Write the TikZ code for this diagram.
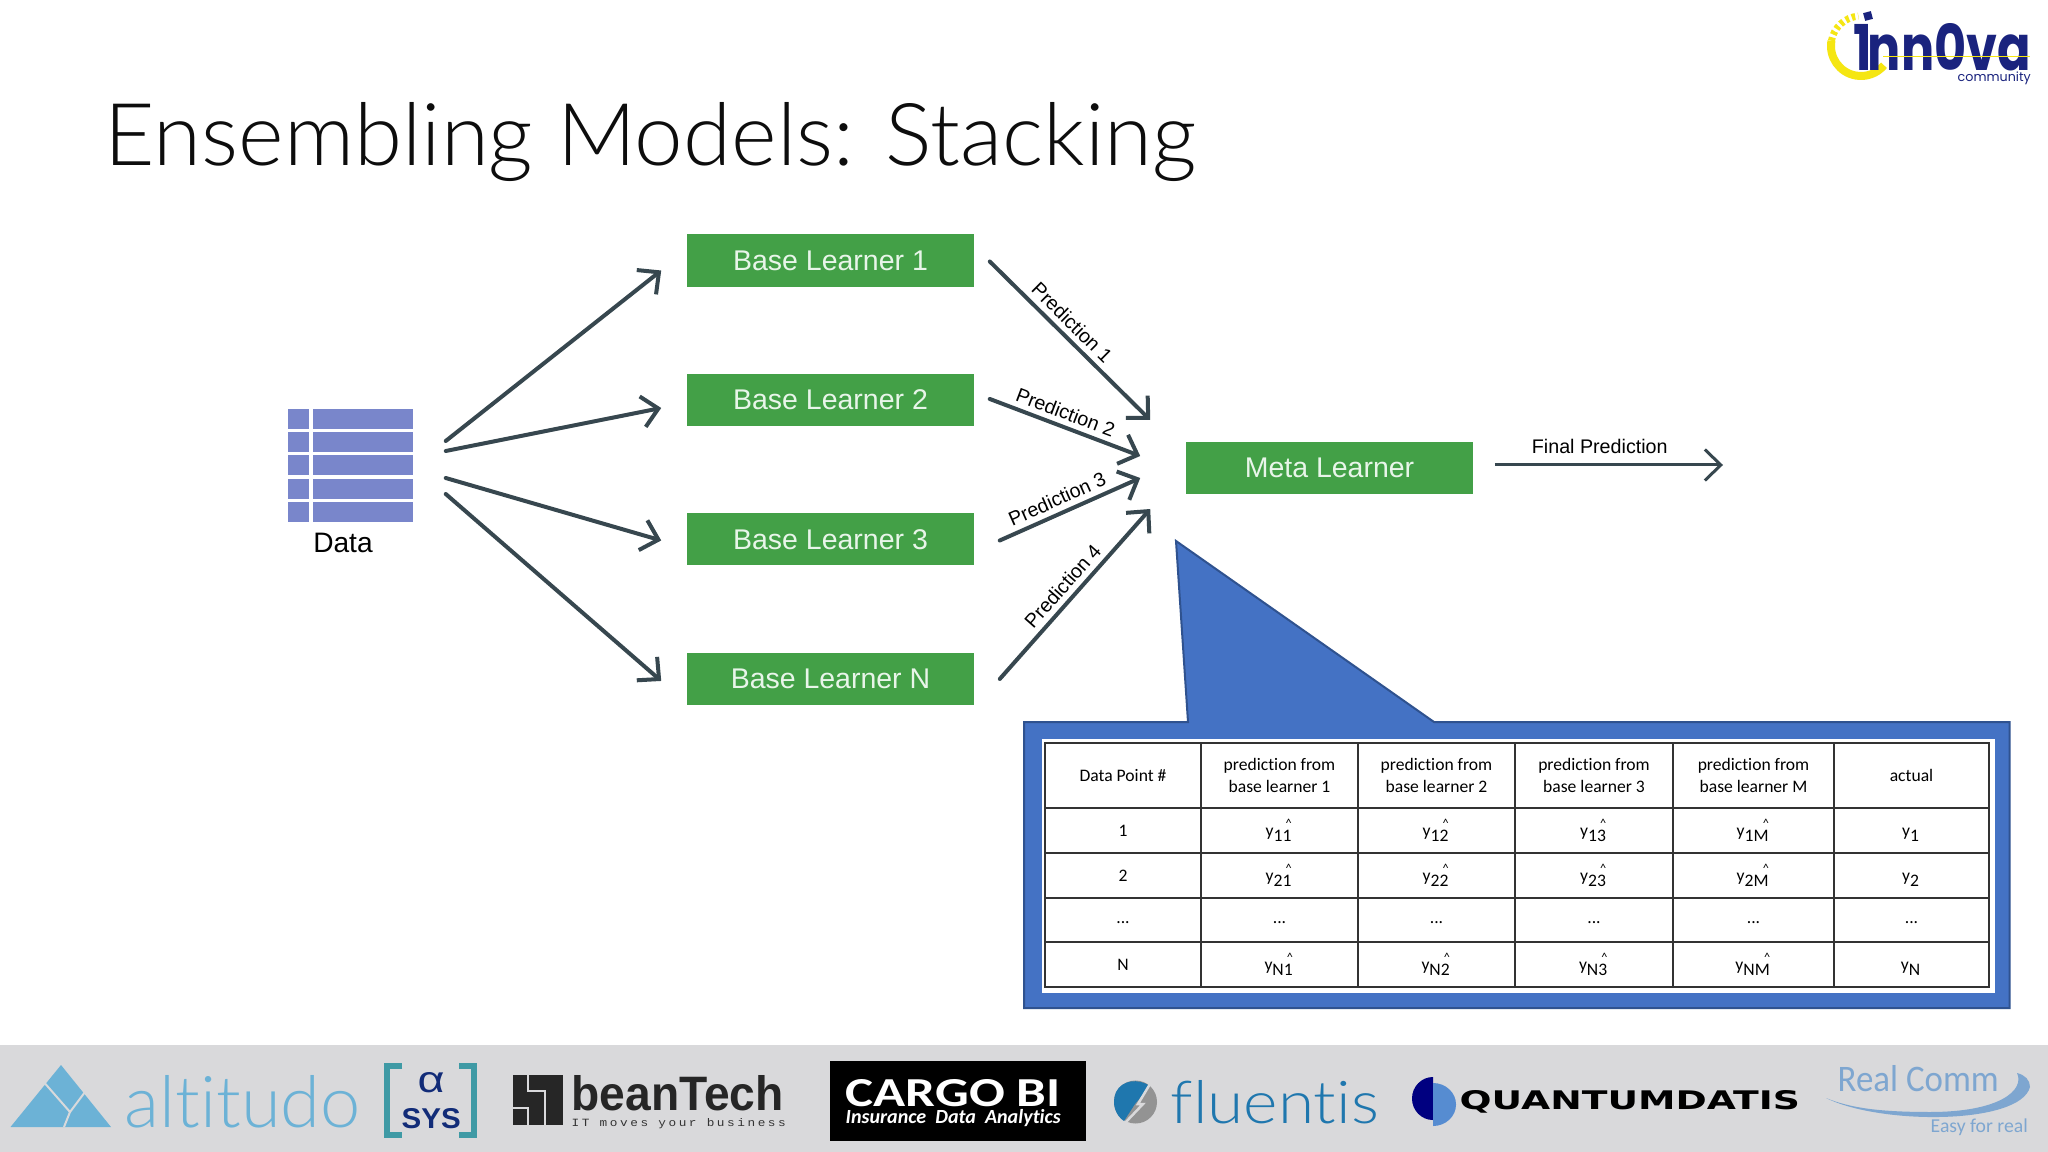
\documentclass[tikz,border=0pt]{standalone}
\usepackage{fontspec}
\usepackage{xcolor}
\usetikzlibrary{arrows.meta,positioning}
\setmainfont{Liberation Sans}
\newfontfamily\carlitofont[Ligatures=NoCommon]{Carlito}
\newfontfamily\latofont[Ligatures=NoCommon]{Lato Light}
\newfontfamily\dejavufont{DejaVu Sans}
\newfontfamily\poppinsfont{Poppins}
\newfontfamily\tagfont[LetterSpace=20]{Liberation Mono}
\definecolor{learnergreen}{RGB}{67, 160, 71}
\definecolor{learnertext}{RGB}{232, 245, 233}
\definecolor{arrowgrey}{RGB}{55, 71, 79}
\definecolor{dataviolet}{RGB}{121, 134, 203}
\definecolor{calloutblue}{RGB}{68, 114, 196}
\definecolor{calloutedge}{RGB}{47, 82, 143}
\definecolor{bandgrey}{RGB}{217, 217, 219}
\definecolor{altitudoblue}{RGB}{108, 178, 214}
\definecolor{sysnavy}{RGB}{18, 44, 120}
\definecolor{systeal}{RGB}{63, 154, 165}
\definecolor{fluentisblue}{RGB}{31, 119, 174}
\definecolor{commblue}{RGB}{126, 166, 208}
\definecolor{innovanavy}{RGB}{26, 35, 126}
\definecolor{innovayellow}{RGB}{245, 230, 18}
\newcommand{\hatmark}{\raisebox{1ex}{\fontsize{3.5}{4}\selectfont\textasciicircum}}
\newcommand{\predhat}[1]{y\textsubscript{#1}\llap{\hatmark\kern0.08em}}
\newcommand{\actualy}[1]{\rule{0pt}{1.5ex}y\textsubscript{#1}\llap{\phantom{\hatmark}}}
\tikzset{
 learner/.style={
 rectangle,
 fill=learnergreen,
 text=learnertext,
 align=center,
 minimum width=2.87cm,
 minimum height=0.52cm,
 font=\fontsize{8.1}{10}\selectfont
 },
 dataarrow/.style={-{Straight Barb[length=1.6mm,width=3.1mm]}, line width=0.4mm, line cap=round, draw=arrowgrey},
 finalarrow/.style={-{Straight Barb[length=1.6mm,width=3.1mm]}, line width=0.3mm, draw=arrowgrey},
 predlabel/.style={inner sep=1.5pt, font=\fontsize{5.6}{7}\selectfont},
 tablecell/.style={
 rectangle,
 draw=black!80,
 line width=0.12mm,
 fill=white,
 align=center,
 inner sep=0pt,
 font=\carlitofont\fontsize{5}{6}\selectfont
 },
 logotext/.style={anchor=base west, inner sep=0pt}
}
\begin{document}
\begin{tikzpicture}[x=0.01cm,y=-0.01cm,node distance=8.6mm and 8mm]
 \useasboundingbox (0,0) rectangle (2048,1152);
 \fill[white] (0,0) rectangle (2048,1152);

 \node[logotext, text=black!95, font=\latofont] (title) at (104,166) {\resizebox{10.91cm}{0.63cm}{Ensembling Models: Stacking}};

 \node[minimum width=1.25cm, minimum height=1.13cm, inner sep=0pt] (data) at (350.5,466) {};
 \foreach \rowy in {409,432.2,455.5,478.8,502} {
 \fill[dataviolet] (288,\rowy) rectangle (308.5,\rowy+20);
 \fill[dataviolet] (313,\rowy) rectangle (413,\rowy+20);
 }
 \node[font=\fontsize{8}{10}\selectfont, inner sep=0pt] (datalabel) at (343,543) {Data};

 \node[learner] (base1) at (830.5,260.5) {Base Learner 1};
 \node[learner, below=of base1] (base2) {Base Learner 2};
 \node[learner, below=of base2] (base3) {Base Learner 3};
 \node[learner, below=of base3] (baseN) {Base Learner N};
 \node[learner] (meta) at (1329.5,468) {Meta Learner};
 \coordinate (finalend) at (1723,465);

 \draw[dataarrow] ([shift={(32,-25)}]data.east) -- ([shift={(-25,10)}]base1.west);
 \draw[dataarrow] ([shift={(32,-15)}]data.east) -- ([shift={(-25,8)}]base2.west);
 \draw[dataarrow] ([shift={(32,12)}]data.east) -- ([shift={(-25,1)}]base3.west);
 \draw[dataarrow] ([shift={(32,28)}]data.east) -- ([shift={(-25,2)}]baseN.west);

 \draw[dataarrow] ([shift={(15,1)}]base1.east) -- node[predlabel, pos=.45, above, sloped] {Prediction 1} ([shift={(-35,-48)}]meta.west);
 \draw[dataarrow] ([shift={(15,-1)}]base2.east) -- node[predlabel, pos=.47, above, sloped] {Prediction 2} ([shift={(-45,-12)}]meta.west);
 \draw[dataarrow] ([shift={(25,1)}]base3.east) -- node[predlabel, pos=.45, above, sloped] {Prediction 3} ([shift={(-45,10)}]meta.west);
 \draw[dataarrow] ([shift={(25,0)}]baseN.east) -- node[predlabel, pos=.49, above, sloped] {Prediction 4} ([shift={(-35,41)}]meta.west);
 \draw[finalarrow] ([shift={(21,-3)}]meta.east) -- node[predlabel, pos=.46, above=0.45mm] {Final Prediction} (finalend);

 \draw[fill=calloutblue, draw=calloutedge, line width=0.2mm] (1024,722) -- (1188,722) -- (1176,541) -- (1434,722) -- (2009.5,722) -- (2009.5,1008) -- (1024,1008) -- cycle;
 \fill[white] (1042,739) rectangle (1995,993);

 \foreach \colname/\colx/\colw/\celltext in {a/1123/156/{Data Point \#}, b/1279.5/157/{prediction from\\base learner 1}, c/1436.5/157/{prediction from\\base learner 2}, d/1594/158/{prediction from\\base learner 3}, e/1753.5/161/{prediction from\\base learner M}, f/1911.5/155/actual}
 \node[tablecell, minimum width=\colw*0.01cm, minimum height=0.65cm] (head\colname) at (\colx,775.5) {\celltext};
 \foreach \rowname/\rowy/\rowh in {1/830.5/45, 2/875.5/45, N/964.5/45} {
 \node[tablecell, minimum width=1.56cm, minimum height=\rowh*0.01cm] (cell\rowname a) at (1123,\rowy) {\rowname};
 \foreach \colname/\colx/\colw/\colsub in {b/1279.5/157/1, c/1436.5/157/2, d/1594/158/3, e/1753.5/161/M}
 \node[tablecell, minimum width=\colw*0.01cm, minimum height=\rowh*0.01cm] (cell\rowname\colname) at (\colx,\rowy) {\predhat{\rowname\colsub}};
 \node[tablecell, minimum width=1.55cm, minimum height=\rowh*0.01cm] (cell\rowname f) at (1911.5,\rowy) {\actualy{\rowname}};
 }
 \foreach \colname/\colx/\colw in {a/1123/156, b/1279.5/157, c/1436.5/157, d/1594/158, e/1753.5/161, f/1911.5/155}
 \node[tablecell, minimum width=\colw*0.01cm, minimum height=0.44cm] (cellx\colname) at (\colx,920) {\raisebox{-0.8ex}{...}};

 \fill[bandgrey] (0,1045) rectangle (2048,1152);

 \fill[altitudoblue] (10.5,1127) -- (61,1065) -- (111,1127) -- cycle;
 \draw[bandgrey, line width=0.2mm] (42,1080) -- (70,1112) -- (64,1127);
 \draw[bandgrey, line width=0.2mm] (70,1112) -- (85,1092);
 \node[logotext, text=altitudoblue, font=\latofont] (altitudo) at (124,1127) {\resizebox{2.36cm}{0.52cm}{altitudo}};

 \draw[systeal, line width=0.6mm] (402,1066) -- (387,1066) -- (387,1135) -- (402,1135);
 \draw[systeal, line width=0.6mm] (459,1066) -- (474,1066) -- (474,1135) -- (459,1135);
 \node[logotext, text=sysnavy] (sysalpha) at (417,1092) {\resizebox{0.27cm}{0.2cm}{α}};
 \node[logotext, text=sysnavy, font=\bfseries] (sysname) at (401,1128) {\resizebox{0.59cm}{0.2cm}{SYS}};

 \fill[black!85] (513,1075) rectangle (563,1125);
 \draw[bandgrey, line width=0.2mm] (528,1075) -- (528,1091) -- (545,1091) -- (545,1125);
 \draw[bandgrey, line width=0.2mm] (513,1108) -- (528,1108) -- (528,1125);
 \node[logotext, text=black!85, font=\bfseries] (beantech) at (571,1110) {\resizebox{2.12cm}{0.35cm}{beanTech}};
 \node[logotext, text=black!80, font=\tagfont] (beantag) at (571,1126) {\resizebox{2.14cm}{0.08cm}{IT moves your business}};

 \fill[black] (829.5,1061) rectangle (1086,1141);
 \node[logotext, text=white, font=\carlitofont\bfseries] (cargo) at (845,1106) {\resizebox{2.15cm}{0.27cm}{CARGO BI}};
 \node[logotext, text=white, font=\carlitofont\bfseries\itshape] (cargotag) at (845,1123) {\resizebox{2.15cm}{!}{Insurance\ \ Data\ \ Analytics}};

 \fill[gray!85] (1135.5,1102) circle[radius=0.215cm];
 \fill[fluentisblue] (1150,1086) .. controls (1138,1078) and (1122,1080) .. (1116,1092) .. controls (1111,1104) and (1116,1116) .. (1124,1121) -- (1135,1104) -- cycle;
 \draw[bandgrey, line width=0.25mm] (1150,1084) -- (1138,1104) -- (1143,1104) -- (1124,1124);
 \node[logotext, text=fluentisblue, font=\latofont] (fluentis) at (1170,1123) {\resizebox{2.08cm}{0.43cm}{fluentis}};

 \fill[blue!50!black] (1433,1077) arc[start angle=90, end angle=270, x radius=0.21cm, y radius=0.215cm] -- cycle;
 \fill[cyan!50!blue!70] (1433,1083) arc[start angle=90, end angle=-90, x radius=0.23cm, y radius=0.215cm] -- cycle;
 \node[logotext, text=black, font=\dejavufont\bfseries] (quantum) at (1459,1109) {\resizebox{3.4cm}{0.19cm}{QUANTUMDATIS}};

 \fill[commblue] (1826,1098) .. controls (1880,1125) and (2020,1125) .. (2030,1087) .. controls (2030,1080) and (2025,1075) .. (2017,1073) .. controls (2025,1090) and (2000,1112) .. (1930,1112) .. controls (1880,1112) and (1850,1108) .. cycle;
 \node[logotext, text=commblue, font=\carlitofont] (realcomm) at (1837,1091) {\resizebox{1.61cm}{0.26cm}{Real Comm}};
 \node[logotext, text=commblue, font=\carlitofont] (easyreal) at (1930,1132) {\resizebox{0.97cm}{!}{Easy for real}};

 \draw[innovayellow, line width=0.08cm] (1861,46) ++(170:0.3cm) arc[start angle=170, end angle=320, radius=0.3cm];
 \draw[innovayellow, line width=0.07cm, dash pattern=on 0.035cm off 0.03cm] (1861,46) ++(170:0.3cm) arc[start angle=170, end angle=95, radius=0.3cm];
 \node[logotext, text=innovanavy, font=\poppinsfont\bfseries] (innova) at (1853,71) {\resizebox{1.77cm}{0.47cm}{1\kern-0.09em nn0va}};
 \fill[innovanavy, rotate around={15:(1868,16)}] (1864,12) rectangle (1872,20);
 \draw[innovayellow, line width=0.1mm] (1883,57) -- (2030,57);
 \node[logotext, text=innovanavy, font=\poppinsfont] (community) at (1957,82) {\resizebox{0.73cm}{!}{community}};
\end{tikzpicture}
\end{document}
